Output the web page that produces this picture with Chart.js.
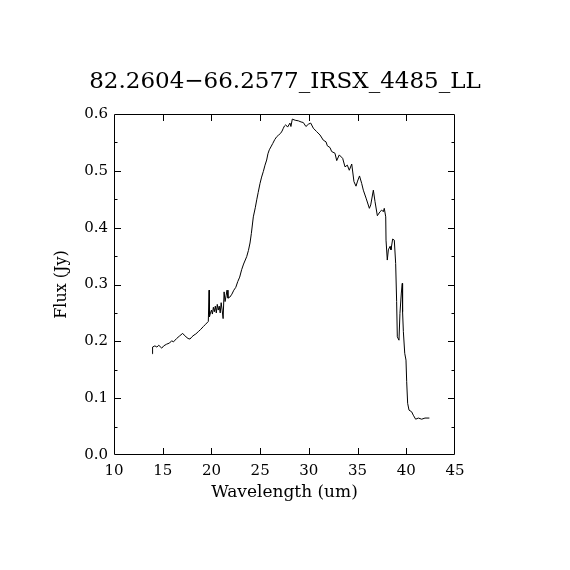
<!DOCTYPE html>
<html>
<head>
<meta charset="utf-8">
<script src="https://cdn.jsdelivr.net/npm/chart.js@4.4.1/dist/chart.umd.min.js"></script>
<style>
  html, body { margin: 0; padding: 0; background: #ffffff; }
  #wrap { width: 570px; height: 570px; }
</style>
</head>
<body>
<div id="wrap"><canvas id="c" width="570" height="570"></canvas></div>
<script>
const chartTitle = "82.2604\u221266.2577_IRSX_4485_LL";
const xLabel = "Wavelength (um)";
const yLabel = "Flux (Jy)";

const wavelength = [
  13.93, 13.96, 14.2, 14.4, 14.6, 14.9, 15.1, 15.4, 15.7, 15.92, 16.1, 16.43, 16.7, 17.05, 17.2, 17.39, 17.6, 17.8, 18.0, 18.21,
  18.4, 18.65, 18.9, 19.17, 19.4, 19.68, 19.76, 19.8, 19.9, 20.0, 20.1, 20.2, 20.3, 20.4, 20.5, 20.6, 20.7, 20.8, 20.9, 21.0,
  21.1, 21.2, 21.3, 21.4, 21.5, 21.6, 21.7, 21.9, 22.1, 22.3, 22.5, 22.7, 22.9, 23.1, 23.3, 23.62, 23.8, 23.96, 24.1, 24.3,
  24.5, 24.65, 24.8, 24.99, 25.15, 25.33, 25.5, 25.67, 25.8, 25.94, 26.1, 26.29, 26.5, 26.7, 26.9, 27.1, 27.25, 27.38, 27.5, 27.62,
  27.82, 28.06, 28.16, 28.3, 28.6, 28.92, 29.2, 29.43, 29.7, 29.95, 30.19, 30.46, 30.8, 31.15, 31.48, 31.76, 31.9, 32.17, 32.34, 32.68,
  32.86, 33.12, 33.47, 33.71, 33.95, 34.15, 34.4, 34.63, 34.84, 35.0, 35.2, 35.42, 35.59, 35.87, 36.21, 36.35, 36.62, 36.79, 37.03, 37.3,
  37.48, 37.64, 37.74, 37.89, 37.92, 38.05, 38.16, 38.33, 38.43, 38.6, 38.77, 38.91, 39.01, 39.08, 39.25, 39.35, 39.49, 39.59, 39.62, 39.7,
  39.84, 39.97, 40.04, 40.14, 40.28, 40.55, 40.72, 40.96, 41.24, 41.58, 41.92, 42.37
];
const flux = [
  0.178, 0.190, 0.192, 0.190, 0.193, 0.188, 0.192, 0.195, 0.197, 0.201, 0.199, 0.205, 0.209, 0.214, 0.211, 0.208, 0.205, 0.204, 0.208, 0.211,
  0.213, 0.217, 0.221, 0.226, 0.230, 0.235, 0.290, 0.243, 0.250, 0.255, 0.248, 0.260, 0.252, 0.262, 0.250, 0.265, 0.255, 0.262, 0.250, 0.268,
  0.255, 0.240, 0.287, 0.270, 0.280, 0.290, 0.276, 0.278, 0.283, 0.290, 0.295, 0.305, 0.313, 0.326, 0.336, 0.349, 0.360, 0.373, 0.390, 0.419,
  0.435, 0.449, 0.462, 0.478, 0.489, 0.499, 0.510, 0.519, 0.530, 0.537, 0.542, 0.548, 0.555, 0.560, 0.563, 0.566, 0.570, 0.575, 0.579, 0.581,
  0.577, 0.584, 0.578, 0.591, 0.589, 0.588, 0.586, 0.585, 0.578, 0.582, 0.584, 0.575, 0.569, 0.563, 0.554, 0.551, 0.544, 0.541, 0.534, 0.531,
  0.518, 0.528, 0.522, 0.507, 0.510, 0.501, 0.512, 0.481, 0.473, 0.482, 0.491, 0.478, 0.466, 0.452, 0.434, 0.440, 0.466, 0.446, 0.421, 0.428,
  0.431, 0.428, 0.434, 0.419, 0.378, 0.343, 0.361, 0.367, 0.361, 0.380, 0.378, 0.337, 0.270, 0.208, 0.202, 0.249, 0.285, 0.302, 0.252, 0.217,
  0.179, 0.167, 0.129, 0.091, 0.079, 0.076, 0.070, 0.063, 0.065, 0.063, 0.065, 0.065
];

const xMin = 10, xMax = 45, xStep = 5;
const yMin = 0, yMax = 0.6, yStep = 0.1, yMinorStep = 0.05;

const FONT = "'DejaVu Serif', 'Liberation Serif', serif";

const frameTicks = {
  id: 'frameTicks',
  afterDraw(chart) {
    const {ctx, chartArea: a, scales: {x, y}} = chart;
    ctx.save();
    ctx.strokeStyle = '#000';
    ctx.lineWidth = 1;
    ctx.beginPath();
    ctx.rect(Math.round(a.left) + 0.5, Math.round(a.top) + 0.5,
             Math.round(a.right - a.left) - 1, Math.round(a.bottom - a.top) - 1);
    ctx.stroke();
    ctx.beginPath();
    const major = 7, minor = 3.5;
    x.ticks.forEach(t => {
      const px = Math.round(x.getPixelForValue(t.value)) + 0.5;
      if (t.value <= xMin || t.value >= xMax) return;
      ctx.moveTo(px, a.bottom); ctx.lineTo(px, a.bottom - major);
      ctx.moveTo(px, a.top); ctx.lineTo(px, a.top + major);
    });
    y.ticks.forEach(t => {
      const py = Math.round(y.getPixelForValue(t.value)) + 0.5;
      if (t.value > yMin + 1e-9 && t.value < yMax - 1e-9) {
        ctx.moveTo(a.left, py); ctx.lineTo(a.left + major, py);
        ctx.moveTo(a.right, py); ctx.lineTo(a.right - major, py);
      }
      const mv = t.value + yMinorStep;
      if (mv < yMax - 1e-9) {
        const pm = Math.round(y.getPixelForValue(mv)) + 0.5;
        ctx.moveTo(a.left, pm); ctx.lineTo(a.left + minor, pm);
        ctx.moveTo(a.right, pm); ctx.lineTo(a.right - minor, pm);
      }
    });
    ctx.stroke();
    ctx.restore();
  }
};

new Chart(document.getElementById('c'), {
  type: 'line',
  data: {
    datasets: [{
      data: wavelength.map((w, i) => ({x: w, y: flux[i]})),
      borderColor: '#000',
      borderWidth: 1,
      pointRadius: 0,
      tension: 0,
      fill: false
    }]
  },
  options: {
    responsive: false,
    animation: false,
    devicePixelRatio: 1,
    layout: { padding: 0 },
    plugins: {
      legend: { display: false },
      tooltip: { enabled: false },
      title: {
        display: true,
        text: chartTitle,
        color: '#000',
        font: { family: FONT, size: 23, weight: 'normal', lineHeight: 1.2 },
        padding: { top: 68, bottom: 18.4 }
      }
    },
    scales: {
      x: {
        type: 'linear',
        min: xMin, max: xMax,
        afterFit(s) { s.height = 115; },
        ticks: { stepSize: xStep, color: '#000', font: { family: FONT, size: 15 }, padding: 7, maxRotation: 0 },
        grid: { display: true, drawOnChartArea: false, drawTicks: false, color: 'rgba(0,0,0,0)' },
        border: { display: false },
        title: { display: true, text: xLabel, color: '#000', font: { family: FONT, size: 17 }, padding: { top: 0, bottom: 67 } }
      },
      y: {
        type: 'linear',
        min: yMin, max: yMax,
        afterFit(s) { s.width = 114; },
        ticks: { stepSize: yStep, color: '#000', font: { family: FONT, size: 15 }, padding: 6,
                 callback: v => Number(v).toFixed(1) },
        grid: { display: true, drawOnChartArea: false, drawTicks: false, color: 'rgba(0,0,0,0)' },
        border: { display: false },
        title: { display: true, text: yLabel, color: '#000', font: { family: FONT, size: 16 }, padding: { top: 52, bottom: 0 } }
      },
      yRight: {
        type: 'linear',
        position: 'right',
        min: yMin, max: yMax,
        afterFit(s) { s.width = 115; },
        ticks: { display: false },
        grid: { display: false },
        border: { display: false }
      }
    }
  },
  plugins: [frameTicks]
});
</script>
</body>
</html>
